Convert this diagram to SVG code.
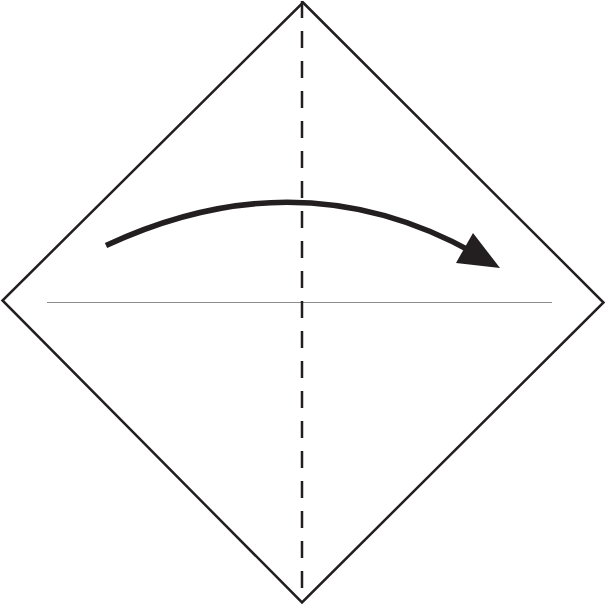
<svg xmlns="http://www.w3.org/2000/svg" width="606" height="606" viewBox="0 0 606 606">
<style>
.edge{fill:none;stroke:#231f20;stroke-width:2.5;stroke-linejoin:miter}
.fold{fill:none;stroke:#231f20;stroke-width:2.5;stroke-dasharray:17 13}
.crease{fill:none;stroke:#8a8a8a;stroke-width:1.2}
.arrow{fill:none;stroke:#231f20;stroke-width:5.5}
</style>
<rect width="606" height="606" fill="#ffffff"/>
<g id="paper">
<polygon class="edge" points="303,2.5 603.5,302.5 302,602.5 2.5,300.5" fill="#fefefe"/>
</g>
<g id="creases">
<line class="crease" x1="47" y1="302.5" x2="552" y2="302.5"/>
<line class="fold" x1="302" y1="1" x2="302" y2="600"/>
</g>
<g id="connectors">
<path class="arrow" d="M106,245.5 Q300,155 476,254"/>
<polygon points="500,268 473,233 456,263" fill="#231f20"/>
</g>
</svg>
